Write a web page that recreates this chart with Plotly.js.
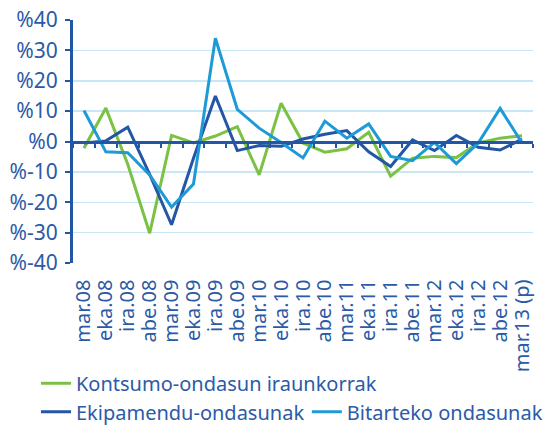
<!DOCTYPE html>
<html>
<head>
<meta charset="utf-8">
<script src="https://cdn.plot.ly/plotly-3.0.1.min.js"></script>
<style>html,body{margin:0;padding:0;background:#fff;}#chart{width:545px;height:426px;}</style>
</head>
<body>
<div id="chart"></div>
<script>
const categories = ["mar.08","eka.08","ira.08","abe.08","mar.09","eka.09","ira.09","abe.09","mar.10","eka.10","ira.10","abe.10","mar.11","eka.11","ira.11","abe.11","mar.12","eka.12","ira.12","abe.12","mar.13 (p)"];
const kontsumo = [-2.2, 11, -7.5, -30.2, 2, -0.5, 1.8, 4.9, -11, 12.6, -0.5, -3.5, -2.4, 3, -11.4, -5.5, -4.9, -5.3, -0.5, 1.1, 1.9];
const ekipamendu = [-0.5, 0.2, 4.7, -10.8, -27.4, -5.5, 15, -3, -1.3, -1.6, 0.8, 2.4, 3.6, -3.4, -8.2, 0.5, -3, 2, -1.9, -2.8, 0.8];
const bitarteko = [10.2, -3.4, -3.7, -11, -21.6, -14, 34, 10.6, 4.4, -0.3, -5.4, 6.7, 1.1, 5.8, -4.9, -6.3, -0.3, -7.3, -0.5, 10.9, -0.5];
const seriesNames = ["Kontsumo-ondasun iraunkorrak","Ekipamendu-ondasunak","Bitarteko ondasunak"];
const yTickVals = [-40,-30,-20,-10,0,10,20,30,40];
const yTickText = ["%-40","%-30","%-20","%-10","%0","%10","%20","%30","%40"];

const textColor = "#2b5aa7";
const darkBlue = "#2356a5";
const lightBlue = "#1e9ad6";
const green = "#7bc144";
const gridColor = "#c8e7f6";
const fontFam = "'Noto Sans', 'Open Sans', sans-serif";

const traces = [
  {x: categories, y: kontsumo, name: seriesNames[0], legend: "legend", type: "scatter", mode: "lines", line: {color: green, width: 3}},
  {x: categories, y: ekipamendu, name: seriesNames[1], legend: "legend2", type: "scatter", mode: "lines", line: {color: darkBlue, width: 3}},
  {x: categories, y: bitarteko, name: seriesNames[2], legend: "legend3", type: "scatter", mode: "lines", line: {color: lightBlue, width: 3}}
];

const legendCommon = {
  orientation: "h", xanchor: "left", yanchor: "top",
  xref: "container", yref: "container",
  font: {family: fontFam, color: textColor, size: 20},
  bgcolor: "rgba(0,0,0,0)", borderwidth: 0, tracegroupgap: 0
};

const layout = {
  width: 545, height: 426,
  margin: {l: 73, r: 12, t: 20, b: 163, pad: 0},
  paper_bgcolor: "#ffffff", plot_bgcolor: "#ffffff",
  font: {family: fontFam, color: textColor, size: 19},
  showlegend: true,
  legend: Object.assign({}, legendCommon, {x: 0.066, y: 0.146}),
  legend2: Object.assign({}, legendCommon, {x: 0.066, y: 0.079}),
  legend3: Object.assign({}, legendCommon, {x: 0.563, y: 0.079}),
  xaxis: {
    type: "category", categoryorder: "array", categoryarray: categories,
    range: [-0.5, categories.length - 0.5],
    anchor: "free", position: 0.5,
    showline: true, linecolor: darkBlue, linewidth: 3,
    ticks: "outside", tickson: "boundaries", ticklen: 4, tickwidth: 2, tickcolor: darkBlue,
    tickmode: "array", tickvals: categories, ticktext: categories,
    tickangle: -90, ticklabelstandoff: 128,
    tickfont: {family: fontFam, color: textColor, size: 20},
    showgrid: false, zeroline: false, automargin: false, fixedrange: true
  },
  yaxis: {
    range: [-40, 40], tickvals: yTickVals, ticktext: yTickText,
    showline: true, linecolor: darkBlue, linewidth: 3,
    ticks: "outside", ticklen: 5, tickwidth: 2, tickcolor: darkBlue,
    ticklabelstandoff: 3,
    tickfont: {family: fontFam, color: textColor, size: 21},
    showgrid: true, gridcolor: gridColor, gridwidth: 1.5,
    zeroline: false, automargin: false, fixedrange: true
  }
};

Plotly.newPlot("chart", traces, layout, {displayModeBar: false, staticPlot: true});
</script>
</body>
</html>
